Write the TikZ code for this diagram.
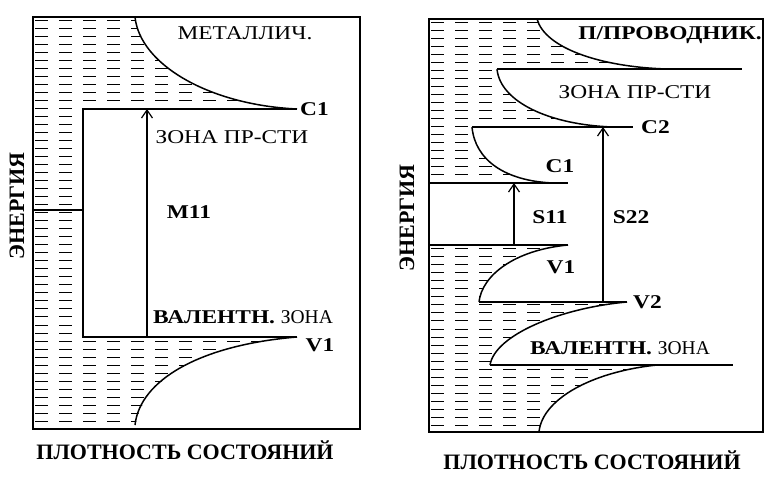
\documentclass[tikz,border=0pt]{standalone}
\usepackage{fontspec}
\setmainfont{Liberation Serif}
\newfontfamily\widefont{Liberation Serif}[FakeStretch=1.2]
\usetikzlibrary{positioning}
\usetikzlibrary{arrows.meta}

\begin{document}
\begin{tikzpicture}[x=1pt,y=-1pt,
	band/.style={line width=2pt},
	edge/.style={line width=1.5pt},
	frame/.style={line width=1.7pt},
	hatch/.style={line width=1pt,dash pattern=on 13pt off 11pt},
	arr/.style={line width=2pt,-{Straight Barb[length=8pt,width=11pt,line width=1.2pt]}},
	lab/.style={font=\widefont\bfseries\fontsize{19.5}{19.5}\selectfont,inner sep=0pt},
	wlab/.style={font=\widefont\fontsize{19.5}{19.5}\selectfont,inner sep=0pt},
	axis/.style={font=\bfseries\fontsize{22}{22}\selectfont,inner sep=0pt}]
	\useasboundingbox (0,0) rectangle (779,478);

	% hatching (filled states)
	\begin{scope}
		\clip (33,17) -- (135,17) .. controls (140,65) and (210,105) .. (297,109) -- (83,109) -- (83,337)
		 -- (297,337) .. controls (200,345) and (140,380) .. (135,429) -- (33,429) -- cycle;
		\foreach \y in {21,29,...,429}
			\draw[hatch] (35,\y) -- (360,\y);
	\end{scope}
	\begin{scope}
		\clip (429,19) -- (537,19) .. controls (545,48) and (600,67) .. (667,69) -- (497,69)
		 .. controls (500,102) and (550,125) .. (613,127) -- (472,127)
		 .. controls (475,160) and (505,181) .. (553,183) -- (429,183) -- cycle;
		\foreach \y in {23,31,...,183}
			\draw[hatch] (431,\y) -- (763,\y);
	\end{scope}
	\begin{scope}
		\clip (429,245) -- (568,245) .. controls (515,250) and (482,275) .. (479,302) -- (627,302)
		 .. controls (560,308) and (495,335) .. (490,365) -- (657,365)
		 .. controls (590,372) and (542,400) .. (539,432) -- (429,432) -- cycle;
		\foreach \y in {249,257,...,432}
			\draw[hatch] (431,\y) -- (763,\y);
	\end{scope}

	% metal
	\draw[frame] (33,17) rectangle (360,429);
	\draw[edge] (33,210) -- (83,210);
	\draw[edge] (135,17) .. controls (140,65) and (210,105) .. (297,109);
	\draw[edge] (297,337) .. controls (200,345) and (140,380) .. (135,425);
	\draw[band] (297,109) coordinate (cL) -- (83,109) -- (83,337) -- (297,337) coordinate (vL);
	\coordinate (mtop) at (147,109);
	\coordinate (mbot) at (147,337);
	\draw[arr] (mbot) -- (mtop);
	\node[wlab] (metal) at (245,33) {МЕТАЛЛИЧ.};
	\node[wlab] (cbandL) at (232,137) {ЗОНА ПР-СТИ};
	\node[lab] (mlab) at (189,212) {M11};
	\node[lab] (vbandL) at (243,317) {ВАЛЕНТН. {\rmfamily\mdseries ЗОНА}};
	\node[lab,right=3pt of cL] (c1L) {C1};
	\node[lab] (v1L) at (320,345) {V1};
	\node[axis] (dosL) at (185,450) {ПЛОТНОСТЬ СОСТОЯНИЙ};
	\node[axis,rotate=90] (enL) at (17,206) {ЭНЕРГИЯ};

	% semiconductor
	\draw[frame] (429,19) rectangle (763,432);
	\draw[edge] (537,19) .. controls (545,48) and (600,67) .. (667,69);
	\draw[band] (497,69) -- (742,69);
	\draw[edge] (497,69) .. controls (500,102) and (550,125) .. (613,127);
	\draw[band] (472,127) -- (633,127) coordinate (c2);
	\draw[edge] (472,127) .. controls (475,160) and (505,181) .. (553,183);
	\draw[band] (429,183) -- (568,183);
	\draw[band] (429,245) -- (568,245);
	\draw[edge] (568,245) .. controls (515,250) and (482,275) .. (479,302);
	\draw[band] (479,302) -- (627,302) coordinate (v2);
	\draw[edge] (627,302) .. controls (560,308) and (495,335) .. (490,365);
	\draw[band] (490,365) -- (733,365);
	\draw[edge] (657,365) .. controls (590,372) and (542,400) .. (539,432);
	\coordinate (s11top) at (514,183);
	\coordinate (s11bot) at (514,245);
	\coordinate (s22top) at (603,127);
	\coordinate (s22bot) at (603,302);
	\draw[arr] (s11bot) -- (s11top);
	\draw[arr] (s22bot) -- (s22top);
	\node[lab] (semi) at (670,35) {П/ПРОВОДНИК.};
	\node[wlab] (cbandR) at (635,92) {ЗОНА ПР-СТИ};
	\node[lab,right=8pt of c2] (c2R) {C2};
	\node[lab] (c1R) at (560,166) {C1};
	\node[lab] (s11) at (550,217) {S11};
	\node[lab] (s22) at (631,217) {S22};
	\node[lab] (v1R) at (561,267) {V1};
	\node[lab,right=6pt of v2] (v2R) {V2};
	\node[lab] (vbandR) at (620,348) {ВАЛЕНТН. {\rmfamily\mdseries ЗОНА}};
	\node[axis] (dosR) at (592,460) {ПЛОТНОСТЬ СОСТОЯНИЙ};
	\node[axis,rotate=90] (enR) at (407,218) {ЭНЕРГИЯ};
\end{tikzpicture}
\end{document}
